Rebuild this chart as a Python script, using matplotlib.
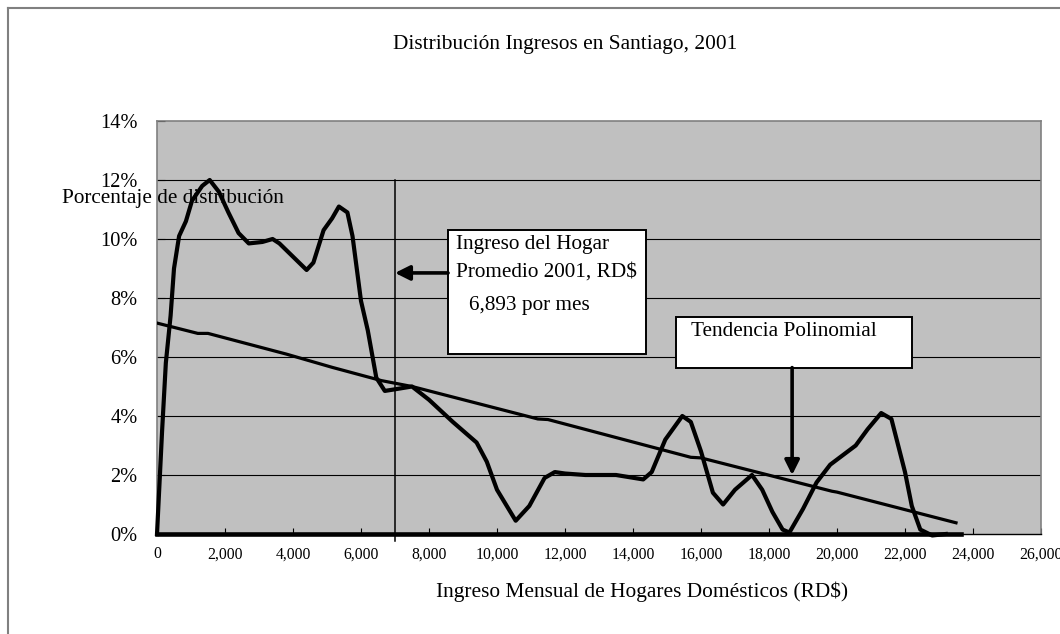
#!/usr/bin/env python3
"""Distribución de ingresos en Santiago, 2001 (recreated chart)."""

import matplotlib

matplotlib.use("Agg")

import matplotlib.pyplot as plt
from matplotlib import patches
from matplotlib.lines import Line2D

plt.rcParams["font.family"] = ["Liberation Serif", "DejaVu Serif"]

# Income distribution curve (RD$ per month, % of households)
income = [0, 150, 260, 400, 500, 650, 850, 1030, 1330, 1550, 1820, 2100, 2400,
          2700, 3100, 3400, 3600, 4000, 4400, 4600, 4900, 5150, 5350, 5600,
          5750, 6000, 6200, 6450, 6700, 6970, 7500, 8000, 8700, 9400, 9700,
          10000, 10550, 10950, 11400, 11700, 12000, 12600, 13500, 14300, 14550,
          14950, 15450, 15700, 16000, 16350, 16650, 17000, 17500, 17800, 18100,
          18400, 18600, 19000, 19400, 19800, 20550, 20900, 21300, 21600, 22000,
          22200, 22450, 22800, 23200]
share = [0.0, 3.5, 5.8, 7.4, 9.0, 10.1, 10.6, 11.3, 11.8, 12.0, 11.6, 10.9, 10.2,
         9.85, 9.9, 10.0, 9.85, 9.4, 8.95, 9.2, 10.3, 10.7, 11.1, 10.9,
         10.1, 7.9, 6.9, 5.3, 4.85, 4.9, 5.0, 4.55, 3.8, 3.1, 2.45,
         1.5, 0.45, 0.95, 1.9, 2.1, 2.05, 2.0, 2.0, 1.85, 2.1,
         3.2, 4.0, 3.8, 2.8, 1.4, 1.0, 1.5, 2.0, 1.5, 0.75,
         0.15, 0.05, 0.85, 1.75, 2.35, 3.0, 3.55, 4.1, 3.9, 2.1,
         0.95, 0.15, -0.05, 0.0]

# Polynomial trend line
trend_x = [0, 1200, 1500, 3800, 5150, 6600, 7500, 11200, 11500, 15700, 16000,
           19850, 20000, 23500]
trend_y = [7.15, 6.8, 6.8, 6.1, 5.65, 5.2, 5.0, 3.9, 3.88, 2.6, 2.58,
           1.45, 1.42, 0.38]

# Baseline drawn along the axis
base_x = [0, 23650]
base_y = [0, 0]

mean_income_x = 7000
mean_line_top = 12

x_ticks = list(range(0, 26001, 2000))
x_tick_labels = [f"{v:,}" for v in x_ticks]
y_ticks = [0, 2, 4, 6, 8, 10, 12, 14]
y_tick_labels = [f"{v}%" for v in y_ticks]

W, H = 1060, 634


def main() -> None:
    fig = plt.figure(figsize=(W / 100, H / 100), dpi=100)
    ax = fig.add_axes([157 / W, 1 - 534 / H, (1041 - 157) / W, (534 - 121) / H])

    ax.set_facecolor("#c0c0c0")
    for side in ("top", "right", "left"):
        ax.spines[side].set_color("#808080")
        ax.spines[side].set_linewidth(1.2)
    ax.spines["bottom"].set_color("black")
    ax.spines["bottom"].set_linewidth(1.0)

    ax.set_xlim(0, 26000)
    ax.set_ylim(0, 14)
    for y in y_ticks[1:-1]:
        ax.axhline(y, color="black", linewidth=0.8, zorder=1)

    ax.plot(base_x, base_y, color="black", linewidth=3.3, clip_on=False, zorder=3)
    ax.plot(income, share, color="black", linewidth=3.0, solid_joinstyle="round",
            clip_on=False, zorder=4)
    ax.plot(trend_x, trend_y, color="black", linewidth=2.3, zorder=4)
    ax.plot([mean_income_x, mean_income_x], [mean_line_top, -0.25], color="black",
            linewidth=1.1, clip_on=False, zorder=3)

    ax.set_xticks(x_ticks)
    ax.set_xticklabels(x_tick_labels, fontsize=11.3)
    ax.set_yticks(y_ticks)
    ax.set_yticklabels(y_tick_labels, fontsize=14.7)
    ax.tick_params(axis="x", direction="in", length=4, pad=9, color="black")
    ax.tick_params(axis="y", direction="in", length=6, pad=14, color="black")

    # Annotation: mean income box
    ax.add_patch(patches.Rectangle((8560, 6.1), 5820, 4.2, facecolor="white",
                                   edgecolor="black", linewidth=1.4, zorder=5))
    ax.text(8800, 9.8, "Ingreso del Hogar", fontsize=15.3, ha="left",
            va="center", zorder=6)
    ax.text(8800, 8.88, "Promedio 2001, RD$", fontsize=15.3, ha="left",
            va="center", zorder=6)
    ax.text(9180, 7.74, "6,893 por mes", fontsize=15.3, ha="left", va="center",
            zorder=6)
    ax.annotate("", xy=(mean_income_x, 8.85), xytext=(8560, 8.85),
                arrowprops=dict(arrowstyle="-|>", color="black", lw=2.6,
                                mutation_scale=22, shrinkA=0, shrinkB=0),
                zorder=6)

    # Annotation: trend box
    ax.add_patch(patches.Rectangle((15260, 5.64), 6940, 1.72, facecolor="white",
                                   edgecolor="black", linewidth=1.4, zorder=5))
    ax.text(15700, 6.85, "Tendencia Polinomial", fontsize=15.3, ha="left",
            va="center", zorder=6)
    ax.annotate("", xy=(18680, 2.0), xytext=(18680, 5.64),
                arrowprops=dict(arrowstyle="-|>", color="black", lw=2.6,
                                mutation_scale=22, shrinkA=0, shrinkB=0),
                zorder=6)

    fig.text(565 / W, 1 - 45 / H, "Distribución Ingresos en Santiago, 2001",
             fontsize=15.4, ha="center", va="center")
    fig.text(642 / W, 1 - 592 / H, "Ingreso Mensual de Hogares Domésticos (RD$)",
             fontsize=15.4, ha="center", va="center")
    fig.text(62 / W, 1 - 198 / H, "Porcentaje de distribución",
             fontsize=15.3, ha="left", va="center", zorder=10)

    # Outer chart frame (left and top edges visible)
    fig.add_artist(Line2D([8 / W, 8 / W], [0, 1 - 8 / H], color="#808080",
                          linewidth=1.5))
    fig.add_artist(Line2D([8 / W, 1], [1 - 8 / H, 1 - 8 / H], color="#808080",
                          linewidth=1.5))

    fig.savefig("out.png", dpi=100)
    plt.close(fig)


if __name__ == "__main__":
    main()
